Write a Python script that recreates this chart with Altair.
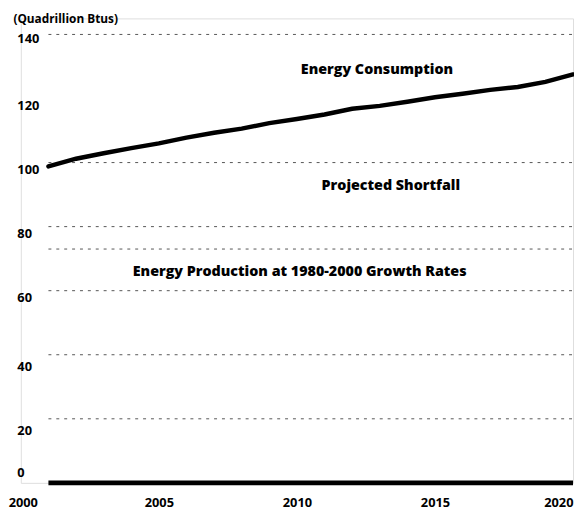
import altair as alt
import pandas as pd

# Energy consumption (quadrillion Btus)
years = list(range(2001, 2021))
consumption = [98.8, 101.2, 102.9, 104.5, 106.0, 107.8, 109.3, 110.6, 112.3, 113.6,
               115.0, 116.8, 117.7, 119.0, 120.4, 121.5, 122.7, 123.6, 125.2, 127.5]

# faint dashed reference levels visible in the scan
dashed_levels = [140, 100, 80, 73, 60, 40, 20]

# annotation labels
label_texts = ["Energy Consumption", "Projected Shortfall",
               "Energy Production at 1980-2000 Growth Rates"]
label_years = [2012.9, 2013.4, 2010.1]
label_values = [128.9, 92.6, 65.8]

y_ticks = [0, 20, 40, 60, 80, 100, 120, 140]
x_ticks = [2000, 2005, 2010, 2015, 2020]

FONT = "Open Sans"

df = pd.DataFrame({"year": years, "value": consumption})
grid_df = pd.DataFrame({"level": dashed_levels, "x1": 2001, "x2": 2020})
lab_df = pd.DataFrame({"text": label_texts, "year": label_years, "value": label_values})
base_df = pd.DataFrame({"level": [0], "x1": [2001], "x2": [2020]})

xscale = alt.Scale(domain=[2000, 2020], nice=False, zero=False)
yscale = alt.Scale(domain=[0, 145], nice=False)

xaxis = alt.Axis(values=x_ticks, format="d", title=None, grid=False, domain=False,
                 ticks=False, tickSize=0, labelPadding=14, labelFontSize=13,
                 labelFont=FONT, labelFontWeight="bold", labelColor="black",
                 labelAlign={"condition": {"test": "datum.value == 2020", "value": "right"},
                             "value": "center"},
                 labelOffset={"condition": {"test": "datum.value == 2000", "value": 2},
                              "value": 0})

yaxis = alt.Axis(values=y_ticks, title="(Quadrillion Btus)", grid=False, domain=False,
                 ticks=False, tickSize=0, labelPadding=4, labelAlign="left",
                 labelFontSize=13, labelFont=FONT, labelFontWeight="bold",
                 labelColor="black",
                 labelOffset={"condition": [{"test": "datum.value == 0", "value": -10},
                                            {"test": "datum.value <= 40", "value": 12},
                                            {"test": "datum.value == 140", "value": 4}],
                              "value": 7},
                 titleAngle=0, titleAlign="left", titleBaseline="middle",
                 titleX=-8, titleY=0, titleFont=FONT, titleFontSize=12,
                 titleFontWeight="bold", titleColor="black")

grid = alt.Chart(grid_df).mark_rule(color="#555", strokeWidth=1, strokeDash=[3, 5]).encode(
    x=alt.X("x1:Q", scale=xscale, axis=xaxis),
    x2="x2:Q",
    y=alt.Y("level:Q", scale=yscale, axis=yaxis),
)

baseline = alt.Chart(base_df).mark_rule(color="black", strokeWidth=5).encode(
    x=alt.X("x1:Q", scale=xscale),
    x2="x2:Q",
    y=alt.Y("level:Q", scale=yscale),
)

line = alt.Chart(df).mark_line(color="black", strokeWidth=4.5, strokeCap="round").encode(
    x=alt.X("year:Q", scale=xscale),
    y=alt.Y("value:Q", scale=yscale),
)

labels = alt.Chart(lab_df).mark_text(font=FONT, fontSize=14.5, fontWeight=800,
                                     color="black", align="center", baseline="middle").encode(
    x=alt.X("year:Q", scale=xscale),
    y=alt.Y("value:Q", scale=yscale),
    text="text:N",
)

chart = alt.layer(grid, baseline, line, labels).properties(
    width=560, height=471,
    autosize=alt.AutoSizeParams(type="none"),
    padding={"left": 13, "top": 7, "right": 1, "bottom": 28},
).configure_view(stroke=None).configure(background="white")

chart.save("out.html", embed_options={"renderer": "svg", "actions": False})
